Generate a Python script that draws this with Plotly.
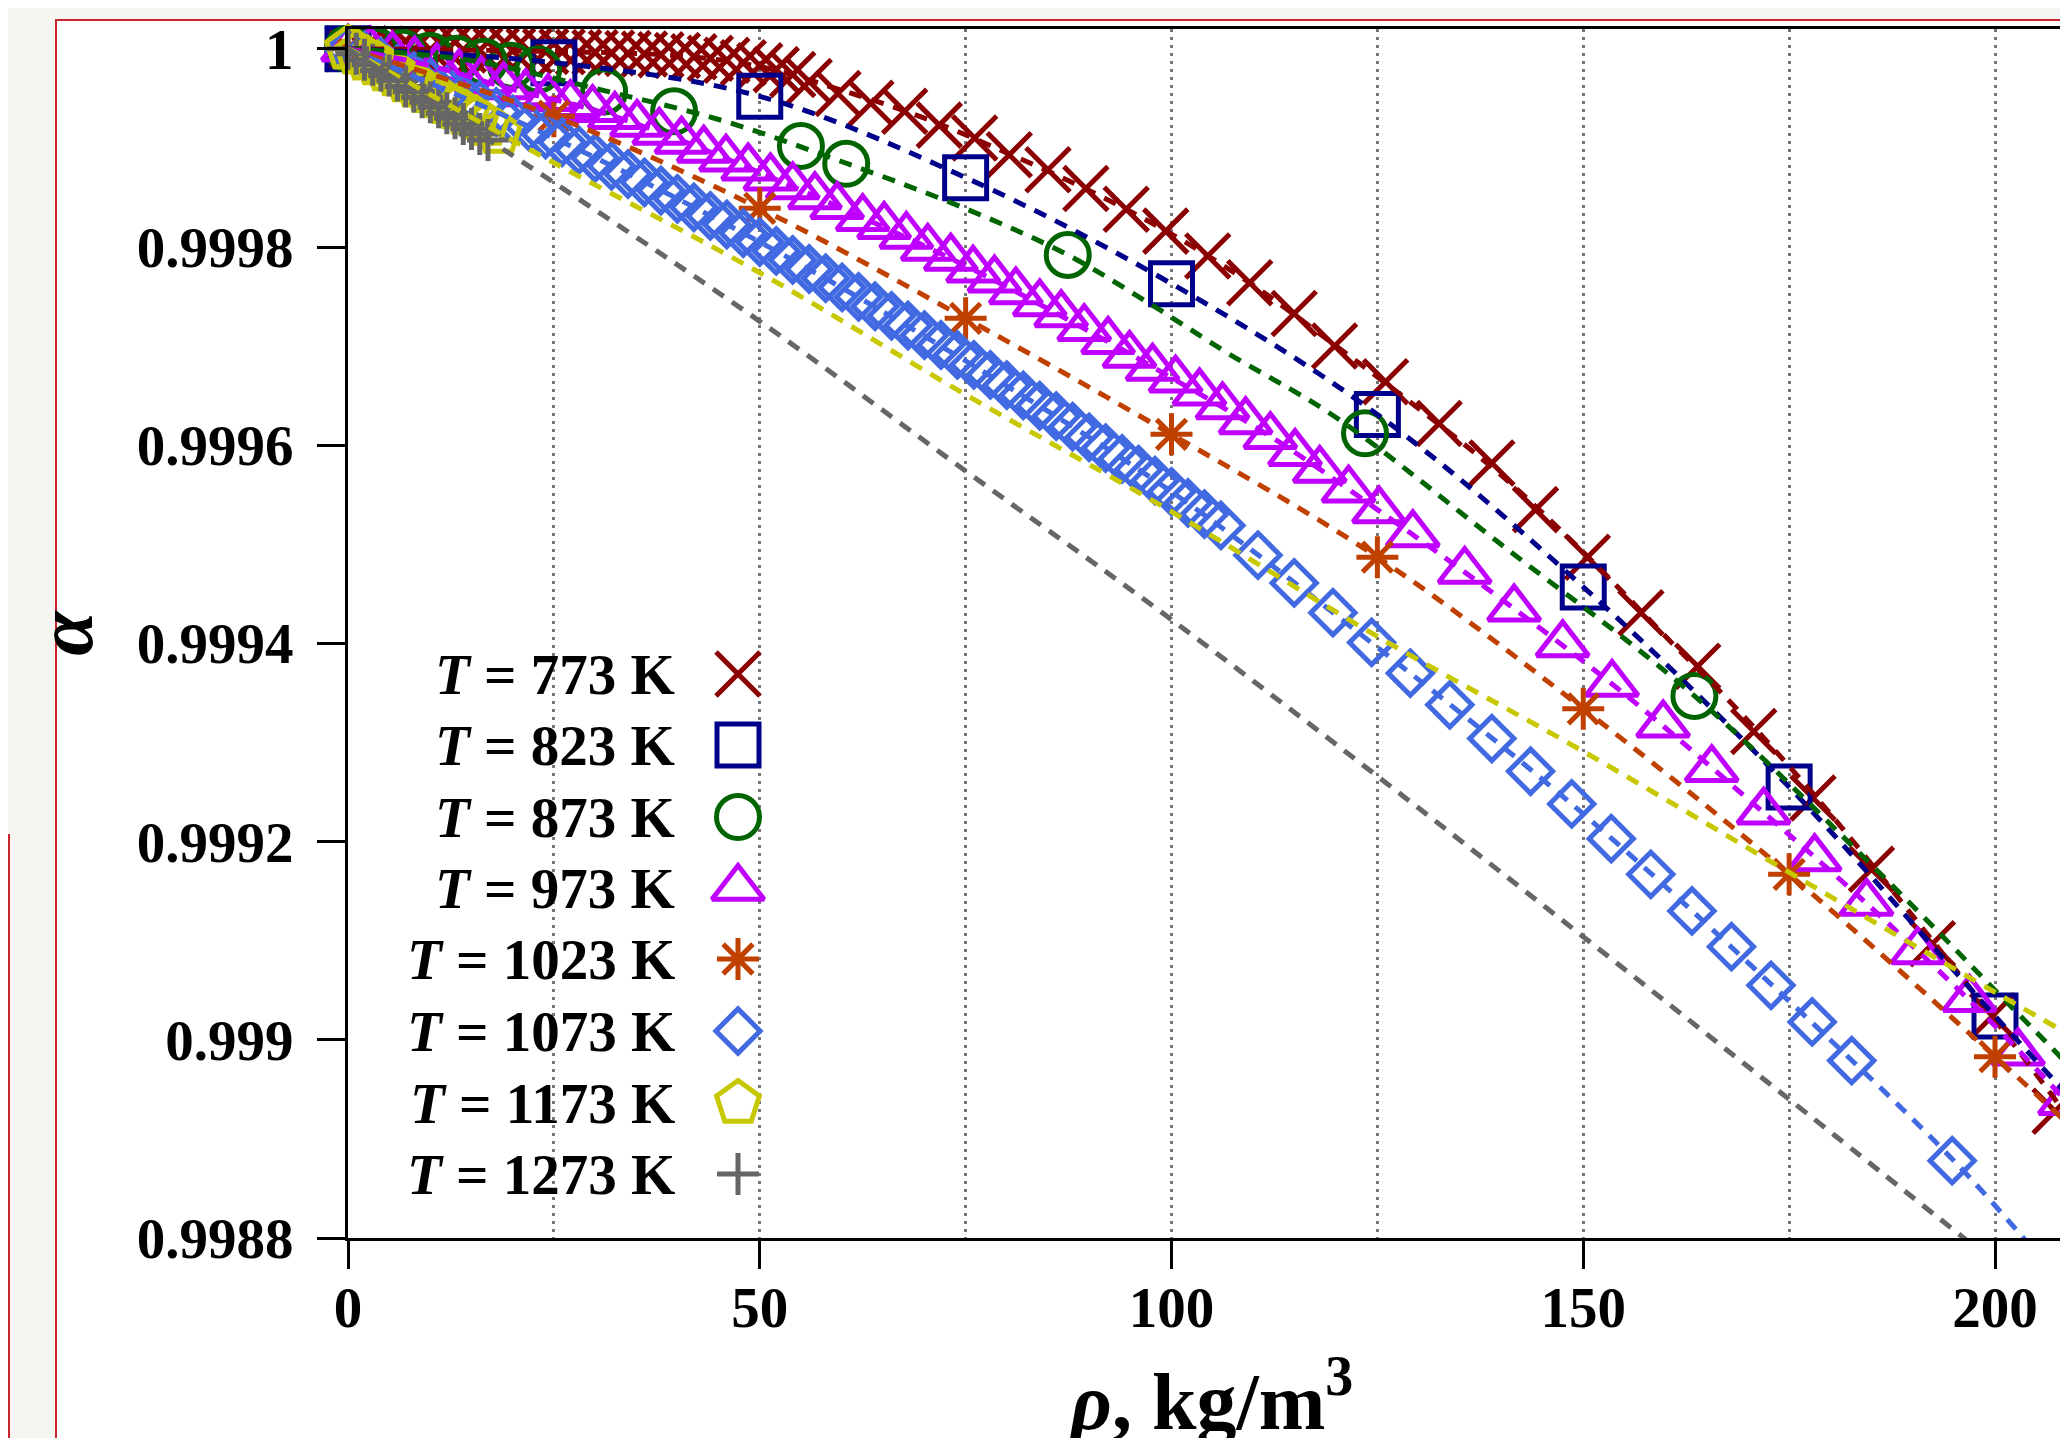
import plotly.graph_objects as go

# ---------------- data (alpha stored as deficit: (1 - alpha) * 1e4) ----------------
temps = [773, 823, 873, 973, 1023, 1073, 1173, 1273]

# T = 773 K (markers)
rho_773 = [0, 2, 4, 6, 8, 10, 12, 14, 16, 18, 20, 22, 24, 26, 28, 30, 32, 34, 36, 38, 40, 42, 44, 46, 48, 50,
           52, 54, 56, 59.5, 63.5, 67.6, 71.8, 76.1, 80.3, 85.0, 89.6, 94.5, 99.3, 104.4, 109.5, 114.9, 119.8,
           126.0, 132.5, 138.9, 144.2, 150.5, 157.0, 163.9, 170.7, 177.9, 185.0, 192.4, 199.7, 207.3]
d_773 = [0, 0.0, 0.003, 0.005, 0.007, 0.009, 0.011, 0.013, 0.015, 0.018, 0.02, 0.023, 0.026, 0.03, 0.034, 0.038,
         0.042, 0.047, 0.053, 0.06, 0.068, 0.08, 0.095, 0.115, 0.14, 0.17, 0.21, 0.26, 0.33, 0.45, 0.55, 0.63,
         0.77, 0.90, 1.07, 1.22, 1.41, 1.62, 1.84, 2.09, 2.36, 2.67, 3.0, 3.36, 3.78, 4.18, 4.65, 5.13, 5.69,
         6.23, 6.89, 7.56, 8.28, 9.03, 9.76, 10.72]

# T = 823 K
rho_823 = [0, 25, 50, 75, 100, 125, 150, 175, 200]
d_823 = [0, 0.14, 0.48, 1.30, 2.37, 3.69, 5.43, 7.45, 9.76]

# T = 873 K
rho_873 = [0, 3.3, 6.6, 9.9, 13.2, 16.5, 19.8, 23.1, 31.1, 39.6, 55.0, 60.5, 87.4, 123.5, 163.5]
d_873 = [0, 0.02, 0.04, 0.07, 0.10, 0.13, 0.17, 0.21, 0.43, 0.63, 0.98, 1.16, 2.08, 3.88, 6.53]

# T = 973 K
rho_973 = [0, 2.7, 5.4, 8.1, 10.8, 13.5, 16.2, 18.9, 21.6, 24.3, 27, 29.7, 32.4, 35.1, 37.8, 40.5, 43.2,
           45.9, 48.6, 51.3, 54, 56.7, 59.4,
           62.5, 65.1, 67.8, 70.4, 73.2, 75.9, 78.5, 81.1, 84, 86.6, 89.4, 92.3, 94.9, 97.7, 100.5, 103.4,
           106.2, 109, 112,
           115, 118, 121.5, 125.2,
           129.3, 135.6, 141.6, 147.5, 153.5, 159.7, 165.6, 171.9, 178.1, 184.4, 190.6, 196.9, 202.8, 208.5]
d_973 = [0, 0.02, 0.07, 0.12, 0.19, 0.25, 0.32, 0.38, 0.45, 0.5, 0.56, 0.61, 0.68, 0.76, 0.84, 0.93, 1.02,
         1.11, 1.2, 1.3, 1.39, 1.49, 1.59,
         1.71, 1.79, 1.89, 2.01, 2.11, 2.23, 2.33, 2.45, 2.57, 2.68, 2.82, 2.95, 3.09, 3.22, 3.34, 3.47,
         3.61, 3.76, 3.91,
         4.08, 4.25, 4.45, 4.66,
         4.9, 5.27, 5.65, 6.01, 6.41, 6.82, 7.27, 7.70, 8.17, 8.62, 9.11, 9.59, 10.13, 10.63]

# T = 1023 K
rho_1023 = [0, 25, 50, 75, 100, 125, 150, 175, 200]
d_1023 = [0, 0.68, 1.61, 2.72, 3.89, 5.13, 6.66, 8.33, 10.17]

# T = 1073 K
rho_1073 = [0, 2, 4, 6, 8, 10, 12, 14, 16, 18, 20, 22, 24, 26, 28, 30, 32, 34, 36, 38, 40, 42, 44, 46, 48,
            50, 52, 54, 56, 58, 60, 62, 64, 66, 68, 70, 72, 74, 76, 78, 80, 82, 84, 86, 88, 90, 92, 94, 96,
            98, 100, 102, 104, 106,
            110.5, 114.9, 119.6, 124.3, 129.0, 133.8, 138.9, 143.6, 148.6, 153.4, 158.2, 163.2, 168.0,
            172.8, 177.8, 182.6, 194.8]
d_1073 = [0, 0.067, 0.135, 0.204, 0.274, 0.344, 0.416, 0.489, 0.562, 0.636, 0.712, 0.788, 0.865, 0.943,
          1.022, 1.102, 1.182, 1.264, 1.347, 1.43, 1.514, 1.6, 1.686, 1.773, 1.861, 1.95, 2.04, 2.131,
          2.222, 2.315, 2.408, 2.503, 2.598, 2.694, 2.792, 2.89, 2.989, 3.089, 3.189, 3.291, 3.394,
          3.497, 3.602, 3.707, 3.813, 3.92, 4.029, 4.138, 4.247, 4.358, 4.47, 4.583, 4.696, 4.81,
          5.11, 5.39, 5.69, 5.99, 6.30, 6.62, 6.96, 7.29, 7.62, 7.97, 8.33, 8.70, 9.06, 9.45, 9.82,
          10.21, 11.22]

# T = 1173 K
rho_1173 = [0, 1.2, 2.4, 3.6, 4.8, 6, 7.2, 8.4, 9.6, 10.8, 12, 13.2, 14.4, 15.6, 16.8, 18.3]
d_1173 = [0, 0.05, 0.11, 0.16, 0.22, 0.27, 0.33, 0.38, 0.44, 0.49, 0.55, 0.6, 0.66, 0.71, 0.77, 0.85]

# T = 1273 K
rho_1273 = [0, 1, 2, 3, 4, 5, 6, 7, 8, 9, 10, 11, 12, 13, 14, 15, 16, 17]
d_1273 = [0, 0.05, 0.11, 0.16, 0.22, 0.27, 0.32, 0.38, 0.43, 0.49, 0.54, 0.59, 0.65, 0.7, 0.76, 0.81,
          0.86, 0.92]

# fitted (dashed) curves
fit_rho_773 = [0, 20, 40, 50, 60, 70, 80, 90, 100, 110, 120, 130, 140, 150, 160, 170, 180, 190, 200, 210, 220]
fit_d_773 = [0, 0.02, 0.07, 0.18, 0.42, 0.70, 1.05, 1.43, 1.87, 2.39, 3.0, 3.63, 4.30, 5.08, 5.93, 6.78,
             7.72, 8.75, 9.8, 10.9, 12.0]
fit_rho_823 = [0, 25, 50, 75, 100, 125, 150, 175, 200, 225]
fit_d_823 = [0, 0.14, 0.48, 1.30, 2.37, 3.69, 5.43, 7.45, 9.76, 12.0]
fit_rho_873 = [0, 15, 31.5, 45.7, 60, 74.9, 87.4, 97.9, 106.8, 119.8, 140, 163.5, 187, 200, 210, 225]
fit_d_873 = [0, 0.12, 0.43, 0.73, 1.14, 1.61, 2.08, 2.6, 3.07, 3.71, 5.0, 6.53, 8.4, 9.5, 10.35, 11.7]
fit_rho_973 = [0, 10, 20, 30, 40, 50, 60, 75, 90, 100, 112, 125, 140, 155, 170, 185, 200, 215]
fit_d_973 = [0, 0.17, 0.41, 0.62, 0.91, 1.25, 1.61, 2.19, 2.85, 3.32, 3.91, 4.65, 5.55, 6.51, 7.57, 8.67,
             9.86, 11.2]
fit_rho_1023 = [0, 25, 50, 75, 100, 125, 150, 175, 200, 225]
fit_d_1023 = [0, 0.68, 1.61, 2.72, 3.89, 5.13, 6.66, 8.33, 10.17, 12.1]
fit_rho_1073 = [0, 25, 50, 75, 100, 125, 150, 175, 195, 205]
fit_d_1073 = [0, 0.9, 1.95, 3.15, 4.47, 6.04, 7.72, 9.61, 11.22, 12.15]
fit_rho_1173 = [0, 25, 50, 75, 100, 125, 150, 175, 200, 225]
fit_d_1173 = [0, 1.15, 2.26, 3.49, 4.67, 5.93, 7.09, 8.31, 9.52, 10.7]
fit_rho_1273 = [0, 25, 50, 75, 100, 125, 150, 175, 200]
fit_d_1273 = [0, 1.35, 2.75, 4.26, 5.76, 7.34, 8.96, 10.6, 12.25]

x_tick_vals = [0, 50, 100, 150, 200]
y_tick_vals = [0.9988, 0.999, 0.9992, 0.9994, 0.9996, 0.9998, 1.0]
y_tick_text = ["0.9988", "0.999", "0.9992", "0.9994", "0.9996", "0.9998", "1"]

# ---------------- styling ----------------
FONT = "Liberation Serif, Times New Roman, serif"
TICK_SIZE = 57
W, H = 2068, 1438
ML, MR, MT, MB = 340, 0, 21, 208
PW, PH = W - ML - MR, H - MT - MB

styles = {
    773: dict(color="#8b0000", symbol="x-thin-open", size=44),
    823: dict(color="#00008b", symbol="square-open", size=42),
    873: dict(color="#006400", symbol="circle-open", size=43),
    973: dict(color="#c000ff", symbol="triangle-up-open", size=45),
    1023: dict(color="#c04000", symbol="asterisk-open", size=35),
    1073: dict(color="#4169e1", symbol="diamond-open", size=34),
    1173: dict(color="#c8c800", symbol="pentagon-open", size=45),
    1273: dict(color="#666666", symbol="cross-thin-open", size=30),
}
markers = {773: (rho_773, d_773), 823: (rho_823, d_823), 873: (rho_873, d_873), 973: (rho_973, d_973),
           1023: (rho_1023, d_1023), 1073: (rho_1073, d_1073), 1173: (rho_1173, d_1173),
           1273: (rho_1273, d_1273)}
fits = {773: (fit_rho_773, fit_d_773), 823: (fit_rho_823, fit_d_823), 873: (fit_rho_873, fit_d_873),
        973: (fit_rho_973, fit_d_973), 1023: (fit_rho_1023, fit_d_1023), 1073: (fit_rho_1073, fit_d_1073),
        1173: (fit_rho_1173, fit_d_1173), 1273: (fit_rho_1273, fit_d_1273)}

for T in temps:
    for a, b in (markers[T], fits[T]):
        if len(a) != len(b):
            raise ValueError(f"length mismatch for {T}: {len(a)} vs {len(b)}")


def to_alpha(d):
    return [1.0 - v * 1e-4 for v in d]


fig = go.Figure()

for T in temps:
    s = styles[T]
    x, d = markers[T]
    fig.add_trace(go.Scatter(
        x=x, y=to_alpha(d), mode="markers", cliponaxis=False, showlegend=False,
        marker=dict(symbol=s["symbol"], size=s["size"], color=s["color"],
                    line=dict(color=s["color"], width=5)),
    ))

for T in temps:
    s = styles[T]
    x, d = fits[T]
    fig.add_trace(go.Scatter(
        x=x, y=to_alpha(d), mode="lines", showlegend=False, line_shape="spline",
        line=dict(color=s["color"], width=5, dash="13px,10px"),
    ))

# ---------------- custom legend (text right-aligned, symbol on the right) ----------------
leg_text_right = 669
leg_sym_x = 730
leg_rows = [666, 737, 809, 880, 951, 1023, 1095, 1166]
for T, yrow in zip(temps, leg_rows):
    s = styles[T]
    fig.add_trace(go.Scatter(
        x=[leg_sym_x], y=[yrow], xaxis="x2", yaxis="y2", mode="markers", showlegend=False,
        cliponaxis=False, hoverinfo="skip",
        marker=dict(symbol=s["symbol"], size=s["size"], color=s["color"],
                    line=dict(color=s["color"], width=5)),
    ))
    fig.add_annotation(
        x=leg_text_right, y=yrow, xref="x2", yref="y2", xanchor="right", yanchor="middle",
        text=f"<i>T</i> = {T} K", showarrow=False,
        font=dict(family=FONT, size=TICK_SIZE, color="black", weight="bold"),
    )

grid_style = dict(showgrid=True, gridcolor="#777777", gridwidth=2.5, griddash="3px,5px")

fig.update_layout(
    width=W, height=H,
    margin=dict(l=ML, r=MR, t=MT, b=MB, pad=0),
    paper_bgcolor="#f6f5f2",
    plot_bgcolor="white",
    font=dict(family=FONT, size=TICK_SIZE, color="black", weight="bold"),
    xaxis=dict(
        range=[0, PW / 8.235], tickvals=x_tick_vals, ticks="outside", ticklen=28, tickwidth=2.5,
        tickcolor="black", showline=True, linewidth=3, linecolor="black", mirror=True,
        zeroline=False, automargin=False, ticklabelstandoff=-10,
        tickfont=dict(family=FONT, size=TICK_SIZE, color="black", weight="bold"),
        minor=dict(dtick=25, ticks="", **grid_style),
        title=dict(text="<i>ρ</i>, kg/m<sup>3</sup>", standoff=36,
                   font=dict(family=FONT, size=80, color="black", weight="bold")),
        **grid_style,
    ),
    yaxis=dict(
        range=[0.9988, 0.9988 + PH / 198.2 * 0.0002], tickvals=y_tick_vals, ticktext=y_tick_text,
        ticks="outside", ticklen=28, tickwidth=2.5, tickcolor="black", showline=True, linewidth=3,
        linecolor="black", zeroline=False, showgrid=False, automargin=False, ticklabelstandoff=12,
        tickfont=dict(family=FONT, size=TICK_SIZE, color="black", weight="bold"),
        title=dict(text="<i>α</i>", standoff=18,
                   font=dict(family=FONT, size=80, color="black", weight="bold")),
    ),
    xaxis2=dict(overlaying="x", range=[ML, W - MR], visible=False),
    yaxis2=dict(overlaying="y", range=[H - MB, MT], visible=False),
    shapes=[
        dict(type="rect", xref="paper", yref="paper",
             x0=(48 - ML) / PW, x1=1.05, y0=-0.3, y1=(H - MB - 12) / PH,
             fillcolor="white", line=dict(color="#c8252c", width=2), layer="below"),
        dict(type="line", xref="paper", yref="paper",
             x0=(1 - ML) / PW, x1=(1 - ML) / PW, y0=(H - MB - 826) / PH, y1=-0.3,
             line=dict(color="#c8252c", width=2), layer="below"),
    ],
)

fig.write_html("out.html")
